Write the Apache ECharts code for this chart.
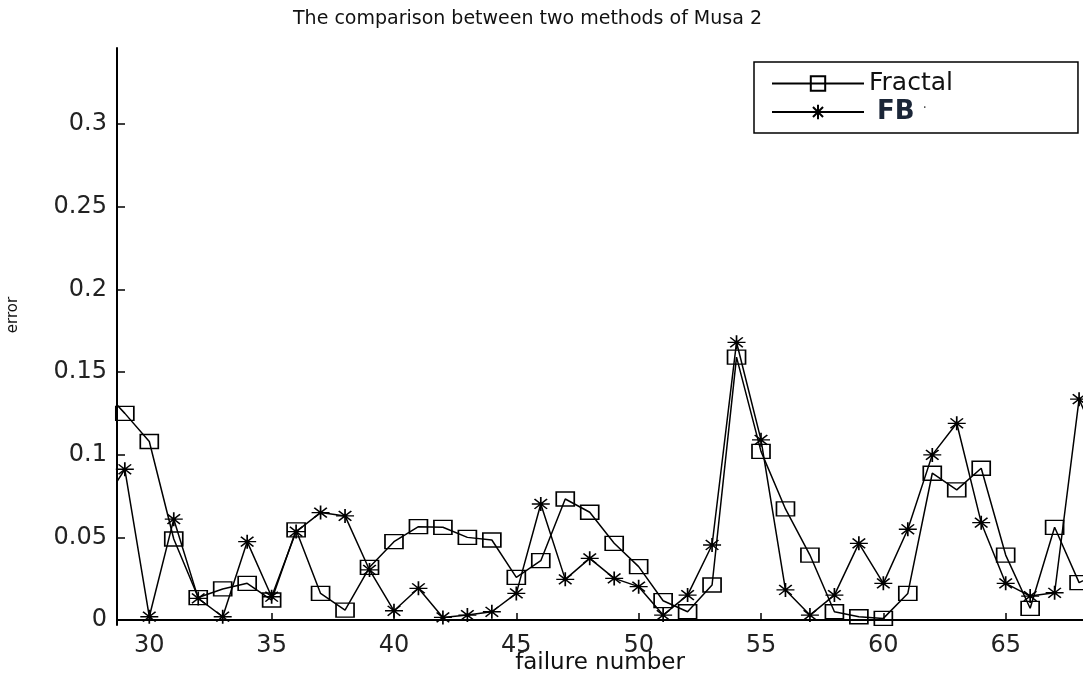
<!DOCTYPE html>
<html>
<head>
<meta charset="utf-8">
<script src="https://cdn.jsdelivr.net/npm/echarts@6/dist/echarts.min.js"></script>
<style>html,body{margin:0;padding:0;background:#fff;}#c{width:1083px;height:684px;}</style>
</head>
<body>
<div id="c"></div>
<script>
// failure numbers (28 and 69 lie just outside the visible range and are clipped)
const failureNumbers = [28,29,30,31,32,33,34,35,36,37,38,39,40,41,42,43,44,45,46,47,48,49,50,51,52,53,54,55,56,57,58,59,60,61,62,63,64,65,66,67,68,69];
const fractalError = [0.141,0.125,0.108,0.049,0.0136,0.0188,0.0222,0.0121,0.0545,0.0161,0.006,0.0319,0.0474,0.0565,0.0561,0.050,0.0484,0.0258,0.0359,0.0732,0.0652,0.0464,0.0323,0.0117,0.005,0.0212,0.159,0.102,0.0672,0.0393,0.005,0.002,0.001,0.0161,0.0888,0.0787,0.0918,0.0393,0.0071,0.0561,0.0226,0.03];
const fbError = [0.068,0.0912,0.002,0.061,0.0131,0.002,0.0474,0.0141,0.0535,0.065,0.063,0.0303,0.0056,0.0192,0.0016,0.003,0.005,0.0161,0.0702,0.0246,0.0373,0.0252,0.0202,0.003,0.0151,0.0454,0.168,0.109,0.0182,0.003,0.0151,0.0464,0.0222,0.0549,0.0999,0.119,0.0589,0.0222,0.0145,0.0165,0.1336,0.10];
const xTicks = [30,35,40,45,50,55,60,65];
const yTicks = [0,0.05,0.1,0.15,0.2,0.25,0.3];
const titleText = 'The comparison between two methods of Musa 2';
const xName = 'failure number';
const yName = 'error';
const seriesNames = ['Fractal','FB'];

const FONT = 'DejaVu Sans';
const pairs = (ys) => failureNumbers.map((x, i) => [x, ys[i]]);
const starPath = 'path://M0,-10L0,10M-10,0L10,0M-7,-7L7,7M-7,7L7,-7';

const chart = echarts.init(document.getElementById('c'), null, {renderer: 'canvas'});
chart.setOption({
  backgroundColor: '#fff',
  animation: false,
  title: {
    text: titleText,
    left: 288, top: 5,
    textStyle: {fontFamily: FONT, fontSize: 19, fontWeight: 'normal', color: '#111'}
  },
  legend: {
    orient: 'vertical',
    left: 754, top: 62,
    padding: [9, 125, 8, 17],
    itemWidth: 92, itemHeight: 18, itemGap: 3,
    borderColor: '#000', borderWidth: 1.5,
    backgroundColor: '#fff',
    textStyle: {fontFamily: FONT, fontSize: 25, color: '#111',
      rich: {fb: {fontFamily: FONT, fontSize: 26, fontWeight: 'bold', color: '#1b2638'},
             dot: {fontFamily: FONT, fontSize: 14, color: '#555', padding: [0,0,8,0]}}},
    formatter: (n) => n === 'FB' ? ' {fb|FB} {dot|·}' : n,
    data: seriesNames
  },
  grid: {left: 117, right: 0, top: 48, bottom: 59, containLabel: false, outerBoundsMode: 'none'},
  xAxis: {
    type: 'value', min: 28.68, max: 68.16,
    name: xName, nameLocation: 'middle', nameGap: 27, nameMoveOverlap: false,
    nameTextStyle: {fontFamily: FONT, fontSize: 23, color: '#111'},
    axisLine: {show: true, lineStyle: {color: '#000', width: 2}},
    axisTick: {show: true, inside: true, length: 7, customValues: xTicks, lineStyle: {color: '#000', width: 1.5}},
    axisLabel: {customValues: xTicks, margin: 9, fontFamily: FONT, fontSize: 24, color: '#222'},
    splitLine: {show: false}
  },
  yAxis: {
    type: 'value', min: -0.003, max: 0.346,
    axisLine: {show: true, lineStyle: {color: '#000', width: 2}},
    axisTick: {show: true, inside: true, length: 8, customValues: yTicks, lineStyle: {color: '#000', width: 1.5}},
    axisLabel: {customValues: yTicks, margin: 10, fontFamily: FONT, fontSize: 24, color: '#222'},
    splitLine: {show: false}
  },
  graphic: [{
    type: 'text', x: 13, y: 315, rotation: Math.PI / 2,
    style: {text: yName, fontFamily: FONT, fontSize: 15, fill: '#111', align: 'center', verticalAlign: 'middle'}
  }],
  series: [
    {
      name: seriesNames[0], type: 'line', data: pairs(fractalError),
      symbol: 'rect', symbolSize: [18, 14], clip: true,
      lineStyle: {color: '#000', width: 1.5},
      itemStyle: {color: 'rgba(0,0,0,0)', borderColor: '#000', borderWidth: 1.5}
    },
    {
      name: seriesNames[1], type: 'line', data: pairs(fbError),
      symbol: starPath, symbolSize: [18, 14], clip: true,
      lineStyle: {color: '#000', width: 1.5},
      itemStyle: {color: '#000', borderColor: '#000', borderWidth: 1.5}
    }
  ]
});
</script>
</body>
</html>
